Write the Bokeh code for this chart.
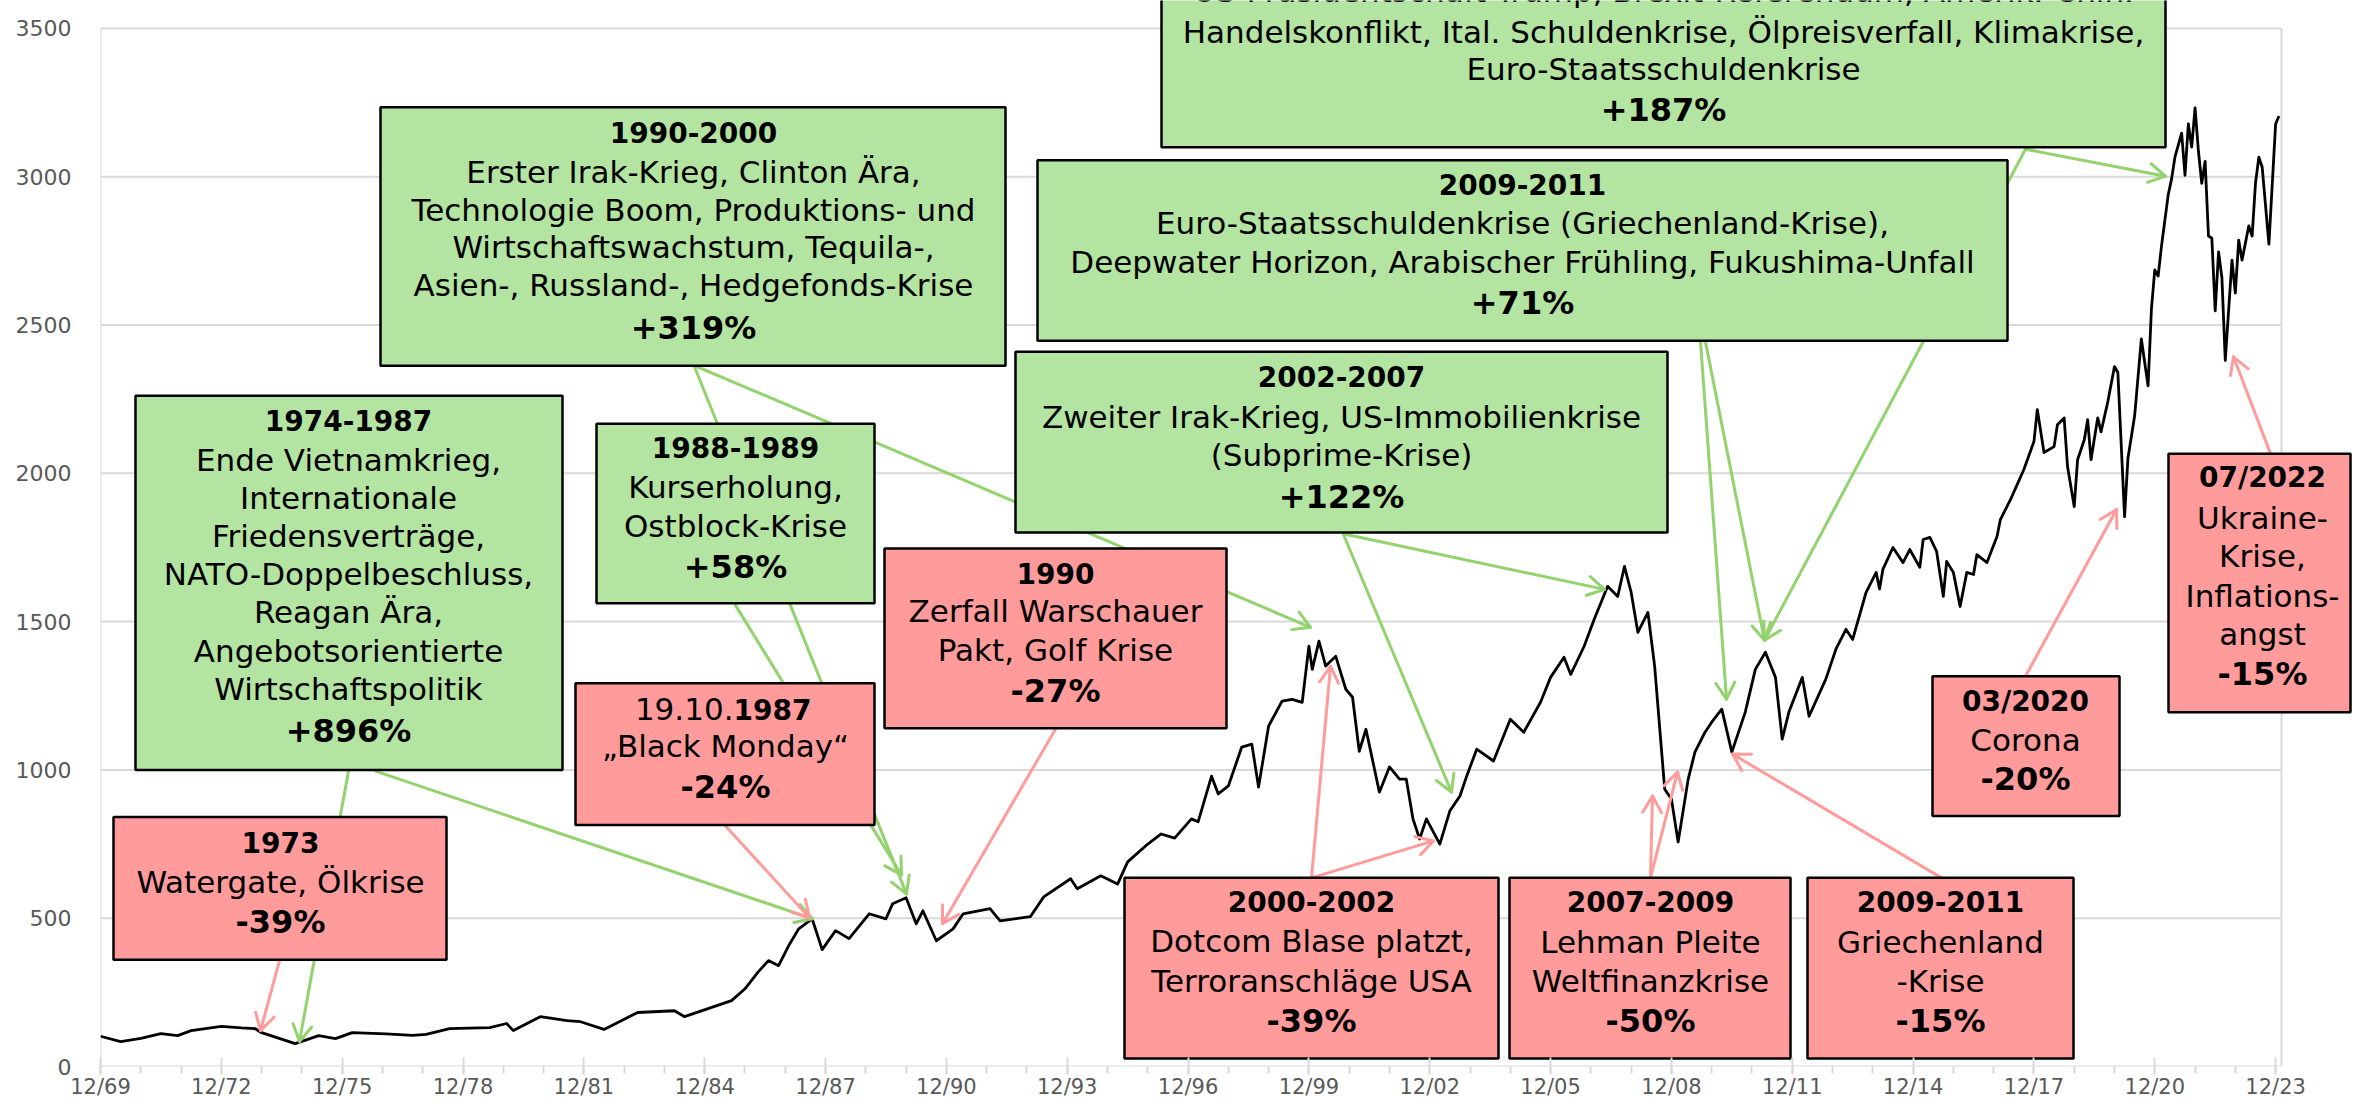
import math
from bokeh.plotting import figure
from bokeh.models import Range1d, FixedTicker
from bokeh.core.properties import value
from bokeh.embed import file_html
from bokeh.resources import INLINE

# ---------------- data ----------------
dates = [
    "1969-12", "1970-06", "1970-12", "1971-06", "1971-11", "1972-03", "1972-12", "1973-06", "1973-10", "1973-12",
    "1974-10", "1975-05", "1975-10", "1976-03", "1977-01", "1977-09", "1978-01", "1978-08", "1979-08", "1980-01",
    "1980-03", "1980-11", "1981-07", "1981-11", "1982-06", "1983-04", "1984-03", "1984-06", "1985-01", "1985-08",
    "1985-12", "1986-04", "1986-07", "1986-10", "1987-01", "1987-04", "1987-08", "1987-11", "1988-03", "1988-07",
    "1989-01", "1989-06", "1989-08", "1989-12", "1990-03", "1990-05", "1990-09", "1991-02", "1991-05", "1992-01",
    "1992-04", "1993-01", "1993-05", "1994-01", "1994-03", "1994-10", "1995-03", "1995-06", "1995-12", "1996-04",
    "1996-08", "1997-01", "1997-03", "1997-07", "1997-09", "1997-12", "1998-04", "1998-07", "1998-09", "1998-12",
    "1999-04", "1999-07", "1999-10", "1999-12", "2000-01", "2000-03", "2000-05", "2000-08", "2000-11", "2001-01",
    "2001-03", "2001-05", "2001-09", "2001-12", "2002-03", "2002-05", "2002-07", "2002-09", "2002-11", "2003-03",
    "2003-06", "2003-09", "2003-11", "2004-02", "2004-07", "2004-12", "2005-04", "2005-09", "2005-12", "2006-04",
    "2006-06", "2006-10", "2007-01", "2007-05", "2007-08", "2007-10", "2007-12", "2008-02", "2008-05", "2008-07",
    "2008-10", "2008-12", "2009-02", "2009-05", "2009-07", "2009-10", "2009-12", "2010-03", "2010-06", "2010-10",
    "2011-01", "2011-04", "2011-07", "2011-09", "2011-11", "2012-03", "2012-05", "2012-10", "2013-01", "2013-04",
    "2013-06", "2013-10", "2014-01", "2014-02", "2014-03", "2014-06", "2014-09", "2014-11", "2015-02", "2015-03",
    "2015-05", "2015-07", "2015-09", "2015-10", "2015-12", "2016-02", "2016-04", "2016-06", "2016-07", "2016-10",
    "2017-01", "2017-02", "2017-05", "2017-07", "2017-09", "2017-12", "2018-01", "2018-03", "2018-06", "2018-07",
    "2018-09", "2018-10", "2018-12", "2019-01", "2019-03", "2019-04", "2019-05", "2019-07", "2019-08", "2019-10",
    "2019-12", "2020-01", "2020-03", "2020-04", "2020-06", "2020-08", "2020-10", "2020-11", "2020-12", "2021-01",
    "2021-02", "2021-04", "2021-05", "2021-06", "2021-08", "2021-09", "2021-10", "2021-11", "2021-12", "2022-01",
    "2022-02", "2022-03", "2022-04", "2022-05", "2022-06", "2022-07", "2022-08", "2022-09", "2022-11", "2022-12",
    "2023-01", "2023-02", "2023-04", "2023-05", "2023-06", "2023-07", "2023-08", "2023-10", "2023-12", "2024-01",
]
index_values = [
    102, 84, 95, 111, 104, 121, 135, 130, 128, 114,
    77, 104, 94, 114, 110, 105, 108, 128, 131, 145,
    121, 168, 155, 151, 125, 182, 188, 168, 195, 222,
    262, 320, 357, 340, 407, 464, 498, 394, 458, 431,
    515, 498, 549, 569, 481, 525, 424, 464, 515, 532,
    491, 505, 572, 633, 599, 643, 615, 690, 750, 784,
    770, 835, 825, 979, 919, 946, 1077, 1087, 942, 1148,
    1232, 1238, 1228, 1417, 1339, 1434, 1350, 1383, 1272, 1245,
    1063, 1137, 925, 1010, 969, 969, 835, 767, 835, 750,
    862, 912, 979, 1070, 1030, 1171, 1127, 1228, 1312, 1380,
    1322, 1417, 1508, 1619, 1585, 1686, 1599, 1464, 1531, 1350,
    935, 902, 757, 969, 1060, 1127, 1161, 1205, 1060, 1195,
    1339, 1397, 1312, 1104, 1195, 1312, 1181, 1306, 1407, 1474,
    1440, 1599, 1666, 1610, 1676, 1750, 1699, 1743, 1683, 1777,
    1784, 1737, 1585, 1703, 1666, 1551, 1666, 1659, 1726, 1699,
    1787, 1844, 1911, 1962, 2013, 2107, 2215, 2070, 2090, 2164,
    2187, 2023, 1888, 2046, 2113, 2181, 2046, 2187, 2140, 2241,
    2360, 2340, 1854, 2050, 2194, 2453, 2295, 2554, 2686, 2665,
    2766, 2939, 2992, 3066, 3147, 3005, 3178, 3100, 3232, 3086,
    2978, 3052, 2800, 2793, 2548, 2747, 2659, 2381, 2719, 2608,
    2786, 2719, 2834, 2800, 2978, 3066, 3032, 2773, 3178, 3205,
]
x_tick_labels = ["12/69", "12/72", "12/75", "12/78", "12/81", "12/84", "12/87", "12/90", "12/93", "12/96",
                 "12/99", "12/02", "12/05", "12/08", "12/11", "12/14", "12/17", "12/20", "12/23"]
y_ticks = [0, 500, 1000, 1500, 2000, 2500, 3000, 3500]


def month_index(s):
    y, m = s.split("-")
    return (int(y) - 1969) * 12 + int(m) - 12


xs = [month_index(d) for d in dates]

# ---------------- layout helpers (reference pixel -> data) ----------------
PX_LEFT = 100.0
PX_PER_MONTH = 40.28 / 12.0
PY_ZERO = 1068.0
PX_PER_UNIT = 1040.0 / 3500.0

W, H = 2352, 1101


def X(px):
    return (px - PX_LEFT) / PX_PER_MONTH


def Y(py):
    return (PY_ZERO - py) / PX_PER_UNIT


FONT = "DejaVu Sans"
GRID = "#D9D9D9"
LABEL = "#595959"
GREEN = "#B4E4A2"
RED = "#FF9B9B"
GREEN_ARROW = "#92D36E"
RED_ARROW = "#FF9B9B"

p = figure(width=W, height=H, output_backend="svg", toolbar_location=None,
           x_range=Range1d(X(100), X(W)), y_range=Range1d(Y(1068), Y(0)),
           min_border_left=100, min_border_right=0, min_border_top=0, min_border_bottom=H - 1068,
           background_fill_color="white", border_fill_color="white")
p.outline_line_color = None
p.xgrid.visible = False
p.ygrid.visible = False

# axes
x_major = [36 * k for k in range(len(x_tick_labels))]
p.xaxis.ticker = FixedTicker(ticks=x_major, minor_ticks=[12 * k for k in range(55)])
p.xaxis.major_label_overrides = {t: lab for t, lab in zip(x_major, x_tick_labels)}
p.xaxis.axis_line_color = None
p.xaxis.major_tick_line_color = GRID
p.xaxis.major_tick_line_width = 2
p.xaxis.major_tick_in = 9
p.xaxis.major_tick_out = 8
p.xaxis.minor_tick_line_color = GRID
p.xaxis.minor_tick_line_width = 2
p.xaxis.minor_tick_in = 0
p.xaxis.minor_tick_out = 7
p.xaxis.major_label_standoff = 0
p.xaxis.major_label_text_font = FONT
p.xaxis.major_label_text_font_size = "21px"
p.xaxis.major_label_text_color = LABEL

p.yaxis.ticker = FixedTicker(ticks=y_ticks)
p.yaxis.axis_line_color = None
p.yaxis.major_tick_line_color = None
p.yaxis.minor_tick_line_color = None
p.yaxis.major_tick_out = 0
p.yaxis.major_tick_in = 0
p.yaxis.major_label_standoff = 29
p.yaxis.major_label_text_font = FONT
p.yaxis.major_label_text_font_size = "22px"
p.yaxis.major_label_text_color = LABEL

# gridlines and plot-area sides
x_right = X(2281)
p.segment(x0=[0] * len(y_ticks), y0=y_ticks, x1=[x_right] * len(y_ticks), y1=y_ticks,
          line_color=GRID, line_width=2)
p.segment(x0=[0, x_right], y0=[0, 0], x1=[0, x_right], y1=[3500, 3500], line_color=GRID, line_width=2)

# the index line
p.line(xs, index_values, line_color="black", line_width=2.8, line_join="round")

# ---------------- arrows ----------------
arrows = [
    # (start px, start py, tip px, tip py, colour)
    (348, 772, 299, 1043, GREEN_ARROW),
    (375, 772, 812, 920, GREEN_ARROW),
    (735, 606, 901, 876, GREEN_ARROW),
    (694, 367, 906, 895, GREEN_ARROW),
    (697, 367, 1310, 628, GREEN_ARROW),
    (1343, 535, 1451, 793, GREEN_ARROW),
    (1346, 535, 1604, 590, GREEN_ARROW),
    (1700, 342, 1726, 700, GREEN_ARROW),
    (1705, 342, 1764, 641, GREEN_ARROW),
    (2025, 149, 1764, 641, GREEN_ARROW),
    (2025, 149, 2165, 176, GREEN_ARROW),
    (279, 962, 260, 1032, RED_ARROW),
    (725, 827, 809, 919, RED_ARROW),
    (1055, 730, 942, 925, RED_ARROW),
    (1311, 879, 1330, 667, RED_ARROW),
    (1311, 879, 1433, 842, RED_ARROW),
    (1650, 879, 1652, 797, RED_ARROW),
    (1650, 879, 1677, 773, RED_ARROW),
    (1941, 879, 1732, 755, RED_ARROW),
    (2025, 677, 2116, 510, RED_ARROW),
    (2270, 454, 2233, 357, RED_ARROW),
]


def head(sx, sy, tx, ty, L=19, ang=30):
    dx, dy = tx - sx, ty - sy
    d = math.hypot(dx, dy)
    vx, vy = -dx / d, -dy / d
    out = []
    for s in (1, -1):
        a = math.radians(ang * s)
        rx = vx * math.cos(a) - vy * math.sin(a)
        ry = vx * math.sin(a) + vy * math.cos(a)
        out.append((tx + L * rx, ty + L * ry))
    return out


axs, ays, acol = [], [], []
for sx, sy, tx, ty, col in arrows:
    (h1x, h1y), (h2x, h2y) = head(sx, sy, tx, ty)
    axs += [[X(sx), X(tx)], [X(h1x), X(tx), X(h2x)]]
    ays += [[Y(sy), Y(ty)], [Y(h1y), Y(ty), Y(h2y)]]
    acol += [col, col]
p.multi_line(xs=axs, ys=ays, line_color=acol, line_width=3, line_cap="round", line_join="round")

# ---------------- boxes ----------------
boxes = [
    (1161, 2165, -80, 147, GREEN, 1663, [
        ("US-Präsidentschaft Trump, Brexit-Referendum, Amerik.-Chin.", -10, "body"),
        ("Handelskonflikt, Ital. Schuldenkrise, Ölpreisverfall, Klimakrise,", 32, "body"),
        ("Euro-Staatsschuldenkrise", 69, "body"),
        ("+187%", 110, "pct")]),
    (1037, 2007, 160, 341, GREEN, 1522, [
        ("2009-2011", 184, "title"),
        ("Euro-Staatsschuldenkrise (Griechenland-Krise),", 223, "body"),
        ("Deepwater Horizon, Arabischer Frühling, Fukushima-Unfall", 262, "body"),
        ("+71%", 303, "pct")]),
    (380, 1005, 107, 366, GREEN, 693, [
        ("1990-2000", 132, "title"),
        ("Erster Irak-Krieg, Clinton Ära,", 172, "body"),
        ("Technologie Boom, Produktions- und", 210, "body"),
        ("Wirtschaftswachstum, Tequila-,", 247, "body"),
        ("Asien-, Russland-, Hedgefonds-Krise", 285, "body"),
        ("+319%", 328, "pct")]),
    (135, 562, 396, 771, GREEN, 348, [
        ("1974-1987", 421, "title"),
        ("Ende Vietnamkrieg,", 460, "body"),
        ("Internationale", 498, "body"),
        ("Friedensverträge,", 537, "body"),
        ("NATO-Doppelbeschluss,", 575, "body"),
        ("Reagan Ära,", 613, "body"),
        ("Angebotsorientierte", 652, "body"),
        ("Wirtschaftspolitik", 690, "body"),
        ("+896%", 732, "pct")]),
    (596, 874, 424, 604, GREEN, 735, [
        ("1988-1989", 448, "title"),
        ("Kurserholung,", 487, "body"),
        ("Ostblock-Krise", 526, "body"),
        ("+58%", 568, "pct")]),
    (1015, 1667, 352, 533, GREEN, 1341, [
        ("2002-2007", 377, "title"),
        ("Zweiter Irak-Krieg, US-Immobilienkrise", 417, "body"),
        ("(Subprime-Krise)", 455, "body"),
        ("+122%", 497, "pct")]),
    (113, 446, 818, 961, RED, 280, [
        ("1973", 844, "title"),
        ("Watergate, Ölkrise", 883, "body"),
        ("-39%", 923, "pct")]),
    (575, 874, 684, 826, RED, 725, [
        ("„Black Monday“", 747, "body"),
        ("-24%", 788, "pct")]),
    (884, 1226, 549, 729, RED, 1055, [
        ("1990", 574, "title"),
        ("Zerfall Warschauer", 612, "body"),
        ("Pakt, Golf Krise", 651, "body"),
        ("-27%", 692, "pct")]),
    (1124, 1498, 879, 1060, RED, 1311, [
        ("2000-2002", 903, "title"),
        ("Dotcom Blase platzt,", 942, "body"),
        ("Terroranschläge USA", 982, "body"),
        ("-39%", 1022, "pct")]),
    (1509, 1790, 879, 1060, RED, 1650, [
        ("2007-2009", 903, "title"),
        ("Lehman Pleite", 943, "body"),
        ("Weltfinanzkrise", 982, "body"),
        ("-50%", 1022, "pct")]),
    (1807, 2073, 879, 1060, RED, 1940, [
        ("2009-2011", 903, "title"),
        ("Griechenland", 943, "body"),
        ("-Krise", 982, "body"),
        ("-15%", 1022, "pct")]),
    (1932, 2119, 677, 817, RED, 2025, [
        ("03/2020", 702, "title"),
        ("Corona", 741, "body"),
        ("-20%", 780, "pct")]),
    (2168, 2350, 454, 713, RED, 2262, [
        ("07/2022", 478, "title"),
        ("Ukraine-", 518, "body"),
        ("Krise,", 557, "body"),
        ("Inflations-", 597, "body"),
        ("angst", 635, "body"),
        ("-15%", 675, "pct")]),
]

p.quad(left=[X(b[0]) for b in boxes], right=[X(b[1]) for b in boxes],
       top=[Y(b[2]) for b in boxes], bottom=[Y(b[3]) for b in boxes],
       fill_color=[b[4] for b in boxes], line_color="black", line_width=2.5)

groups = {"body": ([], [], []), "title": ([], [], []), "pct": ([], [], [])}
for b in boxes:
    cx = b[5]
    for txt, ty, kind in b[6]:
        gx, gy, gt = groups[kind]
        gx.append(X(cx))
        gy.append(Y(ty))
        gt.append(txt)

styles = {"body": ("31px", "normal"), "title": ("28px", "bold"), "pct": ("32px", "bold")}
for kind, (gx, gy, gt) in groups.items():
    size, style = styles[kind]
    p.text(x=gx, y=gy, text=gt, text_align="center", text_baseline="middle",
           text_font=value(FONT), text_font_size=value(size), text_font_style=style,
           text_color="black")

# mixed-style title "19.10.1987"
p.text(x=[X(733)], y=[Y(710)], text=["19.10."], text_align="right", text_baseline="middle",
       text_font=value(FONT), text_font_size=value("31px"), text_color="black")
p.text(x=[X(733)], y=[Y(710)], text=["1987"], text_align="left", text_baseline="middle",
       text_font=value(FONT), text_font_size=value("28px"), text_font_style="bold", text_color="black")

open("out.html", "w").write(file_html(p, INLINE))
